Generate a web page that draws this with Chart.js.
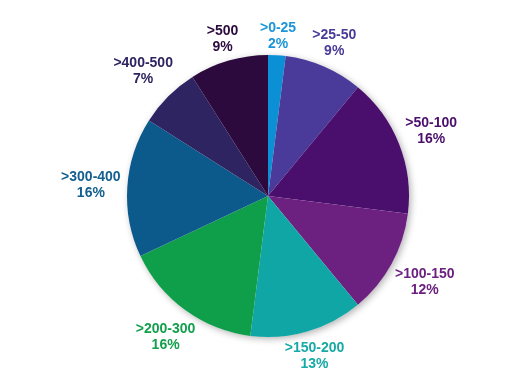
<!DOCTYPE html>
<html>
<head>
<meta charset="utf-8">
<script src="https://cdn.jsdelivr.net/npm/chart.js@4/dist/chart.umd.min.js"></script>
<style>
  html, body { margin: 0; padding: 0; background: #fff; }
  #wrap { width: 523px; height: 375px; }
</style>
</head>
<body>
<div id="wrap"><canvas id="myChart"></canvas></div>
<script>
const categories = ['>0-25', '>25-50', '>50-100', '>100-150', '>150-200', '>200-300', '>300-400', '>400-500', '>500']
const shares = [2, 9, 16, 12, 13, 16, 16, 7, 9]
const colors = ['#0b90d6', '#4a3a99', '#4a0f6d', '#6c2180', '#11a6a6', '#0f9e49', '#0c5a8b', '#2e2461', '#2c0a3d']
const labelColors = ['#1a95d8', '#4a3a99', '#4a0f6d', '#6c2180', '#17a9a6', '#12a04c', '#14608e', '#2e2461', '#2c0a3d']

// shadow behind the pie
const pieShadow = {
  id: 'pieShadow',
  beforeDatasetsDraw(chart) {
    const arc = chart.getDatasetMeta(0).data[0]
    const ctx = chart.ctx
    ctx.save()
    ctx.shadowColor = 'rgba(0,0,0,0.3)'
    ctx.shadowBlur = 7
    ctx.shadowOffsetX = 2
    ctx.shadowOffsetY = 2
    ctx.fillStyle = '#fff'
    ctx.beginPath()
    ctx.arc(arc.x, arc.y, arc.outerRadius, 0, Math.PI * 2)
    ctx.fill()
    ctx.restore()
  }
}

// labels outside each slice
const outsideLabels = {
  id: 'outsideLabels',
  afterDatasetsDraw(chart) {
    const ctx = chart.ctx
    const meta = chart.getDatasetMeta(0)
    ctx.save()
    ctx.font = 'bold 14px "Liberation Sans", Arial, sans-serif'
    ctx.textAlign = 'center'
    ctx.textBaseline = 'middle'
    meta.data.forEach((arc, i) => {
      const mid = (arc.startAngle + arc.endAngle) / 2
      const ux = Math.cos(mid)
      const uy = Math.sin(mid)
      const line1 = categories[i]
      const line2 = shares[i] + '%'
      const hw = Math.max(ctx.measureText(line1).width, ctx.measureText(line2).width) / 2
      const hh = 12
      const d = arc.outerRadius + 6 + hw * Math.abs(ux) + hh * Math.abs(uy)
      const x = arc.x + ux * d
      const y = arc.y + uy * d
      ctx.fillStyle = labelColors[i]
      ctx.fillText(line1, x, y - 8)
      ctx.fillText(line2, x, y + 8)
    })
    ctx.restore()
  }
}

new Chart('myChart', {
  type: 'pie',
  data: {
    labels: categories,
    datasets: [{
      data: shares,
      backgroundColor: colors,
      borderWidth: 0
    }]
  },
  options: {
    responsive: true,
    maintainAspectRatio: false,
    animation: false,
    layout: { padding: { top: 55, bottom: 38, left: 13, right: 0 } },
    plugins: {
      legend: { display: false },
      tooltip: { enabled: false }
    }
  },
  plugins: [pieShadow, outsideLabels]
})
</script>
</body>
</html>
